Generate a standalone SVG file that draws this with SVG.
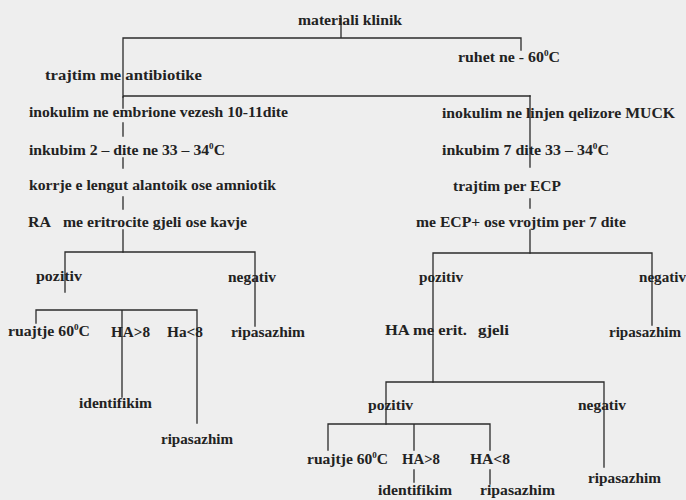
<svg xmlns="http://www.w3.org/2000/svg" width="686" height="500" viewBox="0 0 686 500">
<style>
.t{font-family:"Liberation Serif","Times New Roman",serif;font-weight:bold;font-size:15.5px;fill:#222}
.s{font-size:9px}
.c{stroke:#2b2b2b;stroke-width:1.3;fill:none;stroke-linecap:square}
</style>
<rect width="686" height="500" fill="#eeeeee"/>
<g id="connectors" class="c">
<path d="M341 17V38M123 38H521V50M123 38V97M123 96H530"/>
<path d="M123 97V108M123 123V136M123 158V168M123 197V209M123 230V252"/>
<path d="M65 252H255M65 252V292M255 252V326"/>
<path d="M36 310H197M36 310V323M122 310V397M197 310V423"/>
<path d="M530 96V167M530 199V208M530 230V253"/>
<path d="M433 253H652M433 253V382M652 253V325"/>
<path d="M386 382H604M386 382V424M604 382V467"/>
<path d="M328 424H490M328 424V450M414 424V450M490 424V450M414 470V482M490 470V484"/>
</g>
<g id="n-materiali"><text class="t" x="298" y="25" textLength="104" lengthAdjust="spacingAndGlyphs">materiali klinik</text></g>
<g id="n-ruhet"><text class="t" x="458" y="62" textLength="102" lengthAdjust="spacingAndGlyphs">ruhet ne - 60<tspan class="s" dy="-6">0</tspan><tspan dy="6">C</tspan></text></g>
<g id="n-trajtim"><text class="t" x="45" y="80" textLength="157" lengthAdjust="spacingAndGlyphs">trajtim me antibiotike</text></g>
<g id="n-inokulim-l"><text class="t" x="29" y="117" textLength="259" lengthAdjust="spacingAndGlyphs">inokulim ne embrione vezesh 10-11dite</text></g>
<g id="n-inkubim-l"><text class="t" x="29" y="155" textLength="196" lengthAdjust="spacingAndGlyphs">inkubim 2 – dite ne 33 – 34<tspan class="s" dy="-6">0</tspan><tspan dy="6">C</tspan></text></g>
<g id="n-korrje"><text class="t" x="29" y="190" textLength="247" lengthAdjust="spacingAndGlyphs">korrje e lengut alantoik ose amniotik</text></g>
<g id="n-ra"><text class="t" x="28" y="227" textLength="23" lengthAdjust="spacingAndGlyphs">RA</text><text class="t" x="63" y="227" textLength="184" lengthAdjust="spacingAndGlyphs">me eritrocite gjeli ose kavje</text></g>
<g id="n-inokulim-r"><text class="t" x="442" y="118" textLength="233" lengthAdjust="spacingAndGlyphs">inokulim ne linjen qelizore MUCK</text></g>
<g id="n-inkubim-r"><text class="t" x="442" y="155" textLength="167" lengthAdjust="spacingAndGlyphs">inkubim 7 dite 33 – 34<tspan class="s" dy="-6">0</tspan><tspan dy="6">C</tspan></text></g>
<g id="n-trajtim-ecp"><text class="t" x="453" y="191" textLength="108" lengthAdjust="spacingAndGlyphs">trajtim per ECP</text></g>
<g id="n-me-ecp"><text class="t" x="416" y="227" textLength="210" lengthAdjust="spacingAndGlyphs">me ECP+ ose vrojtim per 7 dite</text></g>
<g id="n-poz-l"><text class="t" x="36" y="281" textLength="46" lengthAdjust="spacingAndGlyphs">pozitiv</text></g>
<g id="n-neg-l"><text class="t" x="228" y="282" textLength="48" lengthAdjust="spacingAndGlyphs">negativ</text></g>
<g id="n-ruajtje-l"><text class="t" x="8" y="336" textLength="82" lengthAdjust="spacingAndGlyphs">ruajtje 60<tspan class="s" dy="-6">0</tspan><tspan dy="6">C</tspan></text></g>
<g id="n-ha8-l"><text class="t" x="111" y="337" textLength="39" lengthAdjust="spacingAndGlyphs">HA&gt;8</text></g>
<g id="n-ha8b-l"><text class="t" x="167" y="337" textLength="36" lengthAdjust="spacingAndGlyphs">Ha&lt;8</text></g>
<g id="n-rip-l1"><text class="t" x="231" y="337" textLength="74" lengthAdjust="spacingAndGlyphs">ripasazhim</text></g>
<g id="n-ident-l"><text class="t" x="79" y="408" textLength="73" lengthAdjust="spacingAndGlyphs">identifikim</text></g>
<g id="n-rip-l2"><text class="t" x="161" y="444" textLength="72" lengthAdjust="spacingAndGlyphs">ripasazhim</text></g>
<g id="n-poz-r1"><text class="t" x="419" y="282" textLength="44" lengthAdjust="spacingAndGlyphs">pozitiv</text></g>
<g id="n-neg-r1"><text class="t" x="639" y="282" textLength="47" lengthAdjust="spacingAndGlyphs">negativ</text></g>
<g id="n-ha-erit"><text class="t" x="385" y="335" textLength="82" lengthAdjust="spacingAndGlyphs">HA me erit.</text><text class="t" x="478" y="335" textLength="31" lengthAdjust="spacingAndGlyphs">gjeli</text></g>
<g id="n-rip-r1"><text class="t" x="609" y="337" textLength="72" lengthAdjust="spacingAndGlyphs">ripasazhim</text></g>
<g id="n-poz-r2"><text class="t" x="368" y="410" textLength="45" lengthAdjust="spacingAndGlyphs">pozitiv</text></g>
<g id="n-neg-r2"><text class="t" x="578" y="410" textLength="48" lengthAdjust="spacingAndGlyphs">negativ</text></g>
<g id="n-ruajtje-r"><text class="t" x="307" y="464" textLength="81" lengthAdjust="spacingAndGlyphs">ruajtje 60<tspan class="s" dy="-6">0</tspan><tspan dy="6">C</tspan></text></g>
<g id="n-ha8-r"><text class="t" x="402" y="464" textLength="38" lengthAdjust="spacingAndGlyphs">HA&gt;8</text></g>
<g id="n-ha8b-r"><text class="t" x="470" y="464" textLength="40" lengthAdjust="spacingAndGlyphs">HA&lt;8</text></g>
<g id="n-ident-r"><text class="t" x="378" y="495" textLength="74" lengthAdjust="spacingAndGlyphs">identifikim</text></g>
<g id="n-rip-r2"><text class="t" x="480" y="495" textLength="75" lengthAdjust="spacingAndGlyphs">ripasazhim</text></g>
<g id="n-rip-r3"><text class="t" x="588" y="483" textLength="73" lengthAdjust="spacingAndGlyphs">ripasazhim</text></g>
</svg>
